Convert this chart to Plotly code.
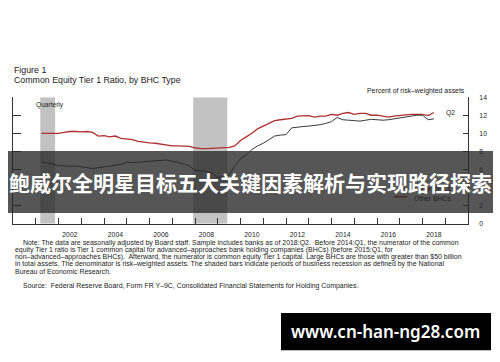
import plotly.graph_objects as go

W, H = 500, 362

# ---- data (quarterly, 2001:Q1 - 2018:Q2) ----
years = list(range(2001, 2019))
other_bhcs = [
    10.0, 10.0, 10.05, 10.0,   # 2001
    10.1, 10.2, 10.2, 10.15,   # 2002
    10.2, 10.1, 9.7, 9.75,     # 2003
    9.6, 9.7, 9.45, 9.35,      # 2004
    9.3, 9.1, 9.0, 8.95,       # 2005
    8.9, 8.8, 8.7, 8.6,        # 2006
    8.6, 8.6, 8.55, 8.4,       # 2007
    8.3, 8.3, 8.35, 8.35,      # 2008
    8.4, 8.45, 8.6, 9.2,       # 2009
    9.6, 10.0, 10.5, 10.8,     # 2010
    11.1, 11.4, 11.5, 11.6,    # 2011
    11.65, 11.9, 11.95, 11.95, # 2012
    11.8, 11.9, 11.9, 12.1,    # 2013
    12.0, 12.2, 12.3, 12.1,    # 2014
    12.2, 12.2, 12.0, 12.0,    # 2015
    11.9, 11.8, 11.9, 12.0,    # 2016
    12.05, 12.1, 12.1, 12.1,   # 2017
    11.95, 12.3,               # 2018
]
large_bhcs = [
    6.8, 6.75, 6.6, 6.4,       # 2001
    6.4, 6.35, 6.4, 6.3,       # 2002
    6.25, 6.1, 6.2, 6.3,       # 2003
    6.35, 6.5, 6.55, 6.8,      # 2004
    6.75, 6.8, 6.85, 6.85,     # 2005
    6.9, 6.95, 7.05, 6.9,      # 2006
    6.8, 6.6, 6.4, 5.9,        # 2007
    5.85, 5.8, 5.6, 5.1,       # 2008
    5.2, 5.4, 6.4, 7.2,        # 2009
    7.6, 8.2, 8.6, 8.9,        # 2010
    9.3, 9.7, 9.8, 9.85,       # 2011
    10.6, 10.7, 10.75, 10.8,   # 2012
    10.85, 10.95, 11.1, 11.3,  # 2013
    11.75, 11.5, 11.45, 11.4,  # 2014
    11.35, 11.45, 11.55, 11.5, # 2015
    11.45, 11.5, 11.6, 11.75,  # 2016
    11.85, 11.95, 12.0, 12.0,  # 2017
    11.5, 11.6,                # 2018
]
recessions = [(2001.2, 2001.85), (2007.92, 2009.42)]
label_years = [2002, 2004, 2006, 2008, 2010, 2012, 2014, 2016, 2018]
y_ticks = [0, 2, 4, 6, 8, 10, 12, 14]

# quarter-end positions as decimal years
quarters = [y + q / 4 for y in years for q in range(1, 5)][: len(other_bhcs)]

RED = "#b0302f"
INK = "#222222"
FONT = "Liberation Sans"


def px(x):
    return x / W


def py(y):
    return (H - y) / H


fig = go.Figure()
fig.add_trace(go.Scatter(x=quarters, y=other_bhcs, mode="lines", name="Other BHCs",
                         line=dict(color=RED, width=1.3), yaxis="y2", showlegend=False))
fig.add_trace(go.Scatter(x=quarters, y=large_bhcs, mode="lines", name="Large BHCs",
                         line=dict(color=INK, width=0.9), yaxis="y2", showlegend=False))

shapes = []
for a, b in recessions:
    shapes.append(dict(type="rect", xref="x", yref="y", x0=a, x1=b, y0=0, y1=14,
                       fillcolor="#c2c2c2", line=dict(width=0), layer="below"))

# legend samples
shapes.append(dict(type="line", xref="paper", yref="paper", x0=px(394), x1=px(407),
                   y0=py(188.5), y1=py(188.5), line=dict(color=INK, width=1)))
shapes.append(dict(type="line", xref="paper", yref="paper", x0=px(394), x1=px(407),
                   y0=py(196.5), y1=py(196.5), line=dict(color=RED, width=1.5)))

# overlay banner and watermark box
shapes.append(dict(type="rect", xref="paper", yref="paper", x0=px(8), x1=px(493),
                   y0=py(213), y1=py(150), fillcolor="rgba(38,38,38,0.78)",
                   line=dict(width=0), layer="above"))
shapes.append(dict(type="rect", xref="paper", yref="paper", x0=px(281), x1=px(491),
                   y0=py(353), y1=py(315), fillcolor="#000000",
                   line=dict(width=0), layer="above"))

ann = []


def text(x, y, s, size, xanchor="left", color=INK, family=FONT, weight=None):
    f = dict(size=size, color=color, family=family)
    if weight:
        f["weight"] = weight
    ann.append(dict(x=px(x), y=py(y), xref="paper", yref="paper", text=s, showarrow=False,
                    xanchor=xanchor, yanchor="middle", font=f, align="left"))


text(12, 67, "Figure 1", 8.8)
text(12, 78, "Common Equity Tier 1 Ratio, by BHC Type", 8.8)
text(34, 103, "Quarterly", 6.6)
text(467, 89, "Percent of risk–weighted assets", 6.9, xanchor="right")
text(444, 111, "Q2", 6.8)
text(412, 189, "Large BHCs", 6.8)
text(412, 198, "Other BHCs", 6.8)

notes = [
    (21, "Note: The data are seasonally adjusted by Board staff. Sample includes banks as of 2018:Q2.  Before 2014:Q1, the numerator of the common"),
    (13, "equity Tier 1 ratio is Tier 1 common capital for advanced–approaches bank holding companies (BHCs) (before 2015:Q1, for"),
    (13, "non–advanced–approaches BHCs).  Afterward, the numerator is common equity Tier 1 capital. Large BHCs are those with greater than $50 billion"),
    (13, "in total assets. The denominator is risk–weighted assets. The shaded bars indicate periods of business recession as defined by the National"),
    (13, "Bureau of Economic Research."),
    (21, "Source:  Federal Reserve Board, Form FR Y–9C, Consolidated Financial Statements for Holding Companies."),
]
note_y = [243.5, 251, 258.3, 265.6, 273, 287.5]
for (x0, s), yy in zip(notes, note_y):
    text(x0, yy, s, 6.95)

# banner text & watermark text
ann.append(dict(x=px(250.5), y=py(182), xref="paper", yref="paper",
                text="鲍威尔全明星目标五大关键因素解析与实现路径探索", showarrow=False,
                xanchor="center", yanchor="middle",
                font=dict(size=21, color="white", family="Noto Sans CJK SC", weight="bold")))
ann.append(dict(x=px(385.5), y=py(334), xref="paper", yref="paper",
                text="www.cn-han-ng28.com", showarrow=False,
                xanchor="center", yanchor="middle",
                font=dict(size=17, color="white", family="Noto Sans", weight=600)))

axis_common = dict(showgrid=False, zeroline=False, showline=True, linecolor="#333333",
                   linewidth=1)

fig.update_layout(
    width=W, height=H, margin=dict(l=0, r=0, t=0, b=0),
    paper_bgcolor="white", plot_bgcolor="white",
    font=dict(family=FONT, color=INK),
    xaxis=dict(axis_common, domain=[px(13), px(468)], range=[2000, 2020],
               tickmode="array", tickvals=[y + 0.5 for y in label_years],
               ticktext=[str(y) for y in label_years], ticks="",
               tickfont=dict(size=6.8, color=INK), ticklabelstandoff=4,
               minor=dict(tickmode="array", tickvals=list(range(2001, 2020)),
                          ticks="inside", ticklen=6, tickcolor="#333333", showgrid=False)),
    yaxis=dict(axis_common, domain=[py(224), py(95)], range=[0, 14],
               tickmode="array", tickvals=y_ticks, ticks="inside", ticklen=8,
               tickcolor="#333333", showticklabels=False),
    yaxis2=dict(axis_common, overlaying="y", side="right", anchor="x", range=[0, 14],
                tickmode="array", tickvals=y_ticks, ticks="inside", ticklen=5,
                tickcolor="#333333", tickfont=dict(size=6.8, color=INK),
                ticklabelstandoff=9),
    shapes=shapes, annotations=ann, showlegend=False,
)

fig.write_html("out.html")
